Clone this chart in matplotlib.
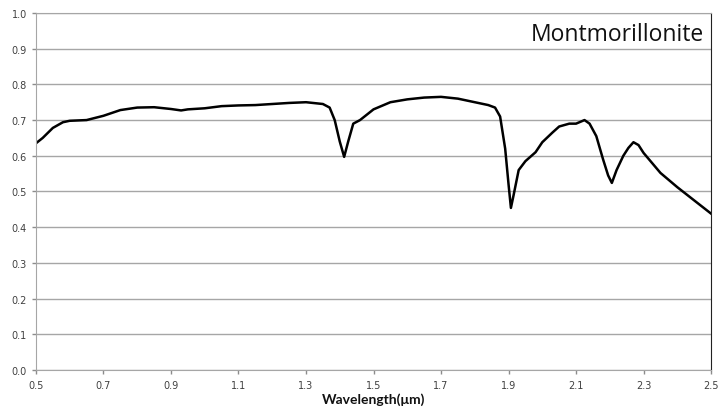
import numpy as np
import matplotlib.pyplot as plt

# Reflectance spectrum
wavelength = [0.50, 0.52, 0.55, 0.58, 0.60, 0.65, 0.70, 0.75, 0.80, 0.85,
              0.90, 0.93, 0.95, 1.00, 1.05, 1.10, 1.15, 1.20, 1.25, 1.30,
              1.35, 1.37, 1.385, 1.40, 1.413, 1.425, 1.44, 1.46, 1.50, 1.55,
              1.60, 1.65, 1.70, 1.75, 1.80, 1.84, 1.86, 1.875, 1.89, 1.90,
              1.907, 1.915, 1.93, 1.95, 1.98, 2.00, 2.03, 2.05, 2.08, 2.10,
              2.125, 2.14, 2.16, 2.18, 2.195, 2.206, 2.22, 2.24, 2.255, 2.27,
              2.285, 2.30, 2.35, 2.40, 2.45, 2.50]
reflectance = [0.635, 0.650, 0.678, 0.694, 0.698, 0.700, 0.712, 0.728, 0.735, 0.736,
               0.731, 0.727, 0.730, 0.733, 0.739, 0.741, 0.742, 0.745, 0.748, 0.750,
               0.745, 0.735, 0.700, 0.640, 0.597, 0.640, 0.690, 0.700, 0.730, 0.750,
               0.758, 0.763, 0.765, 0.760, 0.750, 0.742, 0.735, 0.710, 0.620, 0.520,
               0.454, 0.490, 0.560, 0.585, 0.610, 0.638, 0.665, 0.682, 0.690, 0.690,
               0.700, 0.690, 0.655, 0.590, 0.545, 0.524, 0.560, 0.600, 0.622, 0.638,
               0.630, 0.608, 0.552, 0.512, 0.475, 0.438]

x_ticks = np.arange(0.5, 2.51, 0.2)
y_ticks = np.arange(0.0, 1.01, 0.1)

fig = plt.figure(figsize=(7.19, 4.10), dpi=100)
ax = fig.add_axes([0.050, 0.095, 0.939, 0.871])

ax.plot(wavelength, reflectance, color="black", linewidth=1.8)

ax.set_xlim(0.5, 2.5)
ax.set_ylim(0.0, 1.0)
ax.set_xticks(x_ticks)
ax.set_xticklabels([f"{t:.1f}" for t in x_ticks])
ax.set_yticks(y_ticks)
ax.set_yticklabels([f"{t:.1f}" for t in y_ticks])
ax.tick_params(axis="both", labelsize=7, colors="#8c8c8c", labelcolor="#404040",
               length=3, width=1)
ax.tick_params(axis="x", pad=4)

ax.grid(axis="y", color="#a6a6a6", linewidth=1)
ax.set_axisbelow(True)
for side in ["left", "bottom", "top"]:
    ax.spines[side].set_color("#a6a6a6")
ax.spines["right"].set_color("#222222")

ax.text(0.99, 0.975, "Montmorillonite", transform=ax.transAxes, ha="right", va="top",
        fontsize=16.5, family="Open Sans", color="#111111")
ax.set_xlabel("Wavelength(\u03bcm)", fontsize=10, fontweight="bold", family="Lato",
              color="#111111", labelpad=2)

fig.savefig("out.png", dpi=100)
